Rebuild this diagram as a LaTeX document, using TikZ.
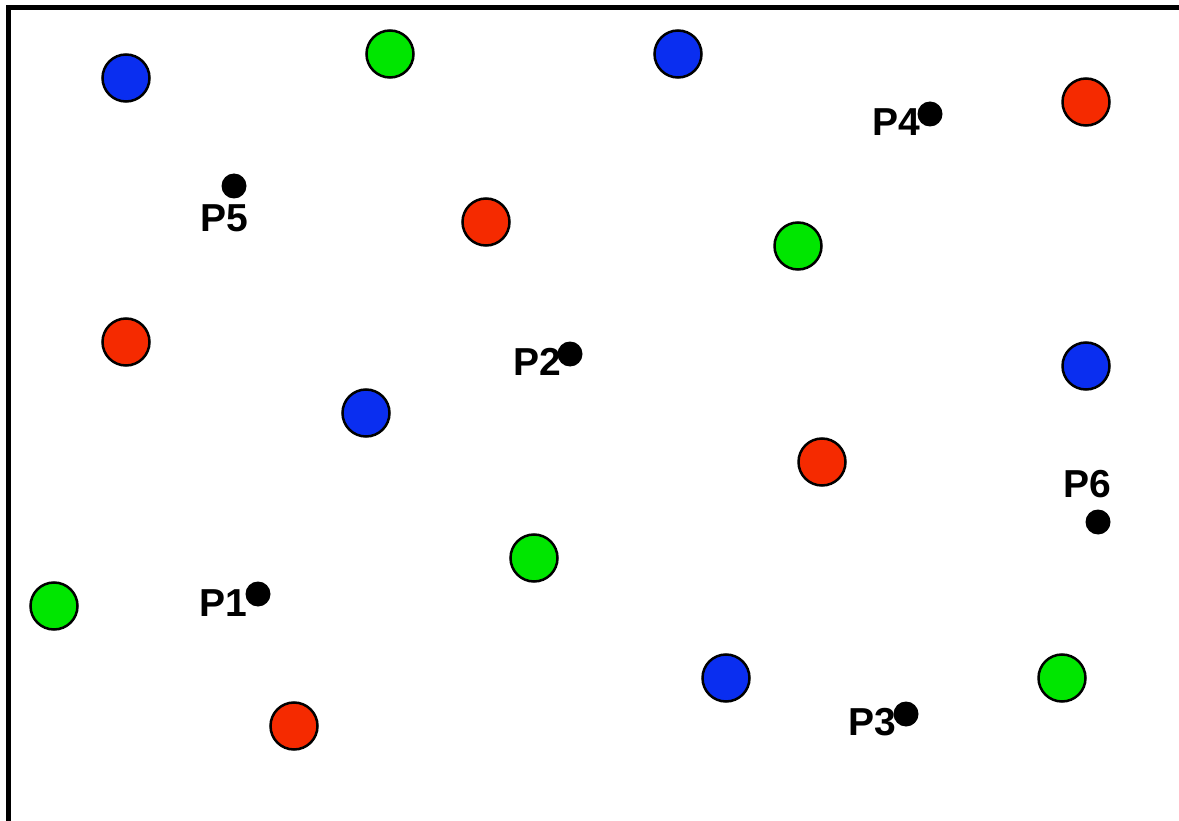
\documentclass[tikz,border=0pt]{standalone}
\usepackage{fontspec}
\setmainfont{Liberation Sans}
\definecolor{cblue}{HTML}{0A2EF0}
\definecolor{cred}{HTML}{F52A00}
\definecolor{cgreen}{HTML}{00E600}
\begin{document}
\begin{tikzpicture}[x=1pt,y=-1pt,
  disc/.style={circle,draw=black,line width=2.5pt,minimum size=47pt,inner sep=0pt},
  bdisc/.style={disc,fill=cblue},
  rdisc/.style={disc,fill=cred},
  gdisc/.style={disc,fill=cgreen},
  pt/.style={circle,fill=black,minimum size=25pt,inner sep=0pt},
  plab/.style={inner sep=0pt,font=\fontsize{39}{41}\selectfont\bfseries}]
\useasboundingbox (0,0) rectangle (1179,821);
\fill[white] (0,0) rectangle (1179,821);
\coordinate (fbl) at (8.5,821);
\coordinate (ftl) at (8.5,7.5);
\coordinate (ftr) at (1179,7.5);
\draw[line width=5pt] (fbl) -- (ftl) -- (ftr);
% blue
\node[bdisc] (b1) at (126,78) {};
\node[bdisc] (b2) at (678,54) {};
\node[bdisc] (b3) at (1086,366) {};
\node[bdisc] (b4) at (366,413) {};
\node[bdisc] (b5) at (726,678) {};
% green
\node[gdisc] (g1) at (390,54) {};
\node[gdisc] (g2) at (798,246) {};
\node[gdisc] (g3) at (534,558) {};
\node[gdisc] (g4) at (54,606) {};
\node[gdisc] (g5) at (1062,678) {};
% red
\node[rdisc] (r1) at (1086,102) {};
\node[rdisc] (r2) at (486,222) {};
\node[rdisc] (r3) at (126,342) {};
\node[rdisc] (r4) at (822,462) {};
\node[rdisc] (r5) at (294,726) {};
% points
\node[pt] (p1) at (258,594) {};
\node[pt] (p2) at (570,354) {};
\node[pt] (p3) at (906,714) {};
\node[pt] (p4) at (930,114) {};
\node[pt] (p5) at (234,186) {};
\node[pt] (p6) at (1098,522) {};
\node[plab] (l1) at (223,603) {P1};
\node[plab] (l2) at (537,362) {P2};
\node[plab] (l3) at (872,722) {P3};
\node[plab] (l4) at (896,122) {P4};
\node[plab] (l5) at (224,218) {P5};
\node[plab] (l6) at (1087,484) {P6};
\end{tikzpicture}
\end{document}
